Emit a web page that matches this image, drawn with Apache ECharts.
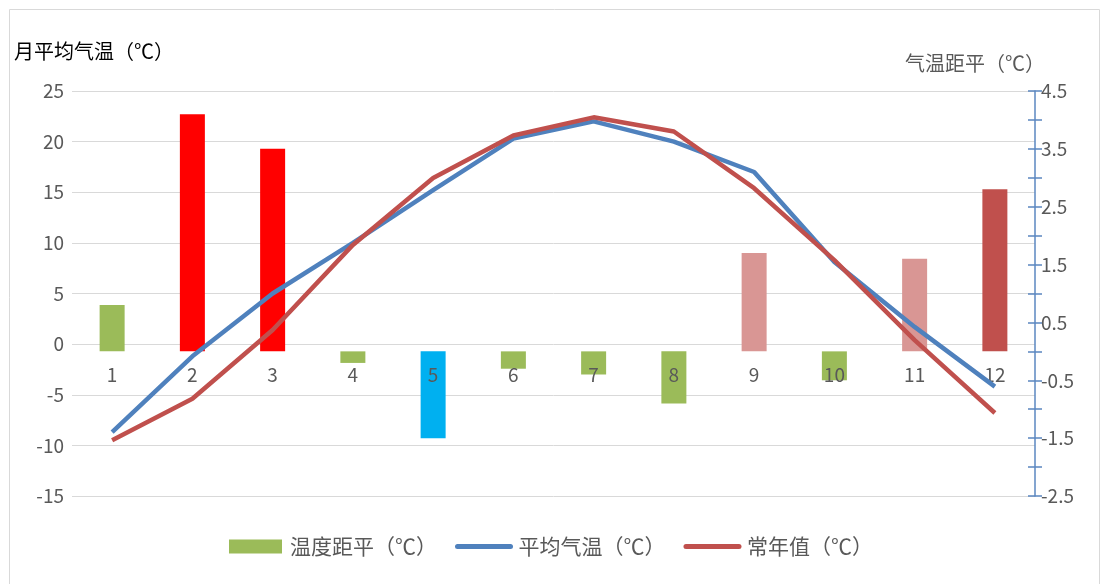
<!DOCTYPE html>
<html><head><meta charset="utf-8">
<script src="https://cdn.jsdelivr.net/npm/echarts@6/dist/echarts.min.js"></script>
<style>html,body{margin:0;padding:0;background:#fff;}#c{width:1102px;height:584px;}</style>
</head><body><div id="c"></div>
<script>
const months = ['1','2','3','4','5','6','7','8','9','10','11','12'];
const anomaly = [0.8, 4.1, 3.5, -0.2, -1.5, -0.3, -0.4, -0.9, 1.7, -0.5, 1.6, 2.8];
const anomalyColors = ['#9bbb59','#ff0000','#ff0000','#9bbb59','#00b0f0','#9bbb59','#9bbb59','#9bbb59','#d99694','#9bbb59','#d99694','#c0504d'];
const avgTemp = [-8.7, -1.2, 5.0, 10.0, 15.2, 20.3, 22.0, 20.0, 17.0, 8.1, 1.7, -4.2];
const normalTemp = [-9.5, -5.4, 1.4, 9.8, 16.4, 20.6, 22.4, 21.0, 15.4, 8.3, 0.4, -6.8];

const font = '"Noto Sans CJK SC", sans-serif';
const chart = echarts.init(document.getElementById('c'));
chart.setOption({
  animation: false,
  textStyle: {fontFamily: font},
  graphic: [{type:'rect', shape:{x:9.5,y:9.5,width:1090,height:580}, style:{fill:'none', stroke:'#d9d9d9', lineWidth:1}, z:-1}],
  grid: {left: 72, right: 67, top: 91, bottom: 88},
  legend: {
    bottom: 22, left: 'center', itemWidth: 53, itemHeight: 14, itemGap: 18,
    textStyle: {fontSize: 21, color: '#595959', fontFamily: font, padding: [0, 2, 0, 3]},
    lineStyle: {width: 5, cap: 'round'},
    data: [
      {name: '温度距平（℃）', icon: 'rect'},
      {name: '平均气温（℃）', itemStyle: {opacity: 0}},
      {name: '常年值（℃）', itemStyle: {opacity: 0}}
    ]
  },
  xAxis: {
    type: 'category', data: months, offset: -145, z: 5,
    axisLine: {show: false, onZero: false},
    axisTick: {show: false},
    axisLabel: {color: '#595959', fontSize: 19, margin: 14},
    splitLine: {show: false}
  },
  yAxis: [
    {
      type: 'value', min: -15, max: 25, interval: 5, position: 'left',
      name: '月平均气温（℃）', nameLocation: 'end', nameGap: 30,
      nameTextStyle: {color: '#000', fontSize: 20, align: 'left', padding: [0,0,0,-58]},
      axisLine: {show: false}, axisTick: {show: false},
      axisLabel: {color: '#595959', fontSize: 19, margin: 8},
      splitLine: {lineStyle: {color: '#d9d9d9'}}
    },
    {
      type: 'value', min: -2.5, max: 4.5, interval: 0.5, position: 'right',
      name: '气温距平（℃）', nameLocation: 'end', nameGap: 18,
      nameTextStyle: {color: '#595959', fontSize: 20, align: 'left', padding: [0,0,0,-130]},
      axisLine: {show: true, lineStyle: {color: '#5b87c0', width: 1.5}},
      axisTick: {show: true, length: 7, lineStyle: {color: '#5b87c0', width: 1.5}},
      axisLabel: {color: '#595959', fontSize: 19, margin: 6,
        formatter: v => (Math.abs(Math.round(v*10)) % 10 === 5) ? String(v) : ''},
      splitLine: {show: false}
    },
    {
      type: 'value', min: -2.5, max: 4.5, interval: 0.5, position: 'right',
      axisLine: {show: false},
      axisTick: {show: true, inside: true, length: 7, lineStyle: {color: '#5b87c0', width: 1.5}},
      axisLabel: {show: false}, splitLine: {show: false}
    }
  ],
  series: [
    {
      name: '温度距平（℃）', type: 'bar', yAxisIndex: 1, barWidth: 25, z: 2,
      itemStyle: {color: '#9bbb59'},
      data: anomaly.map((v, i) => ({value: v, itemStyle: {color: anomalyColors[i]}}))
    },
    {
      name: '平均气温（℃）', type: 'line', yAxisIndex: 0, data: avgTemp,
      symbol: 'none', lineStyle: {color: '#4f81bd', width: 4.5}, itemStyle: {color: '#4f81bd'}, z: 6
    },
    {
      name: '常年值（℃）', type: 'line', yAxisIndex: 0, data: normalTemp,
      symbol: 'none', lineStyle: {color: '#c0504d', width: 4.5}, itemStyle: {color: '#c0504d'}, z: 7
    }
  ]
});
</script></body></html>
